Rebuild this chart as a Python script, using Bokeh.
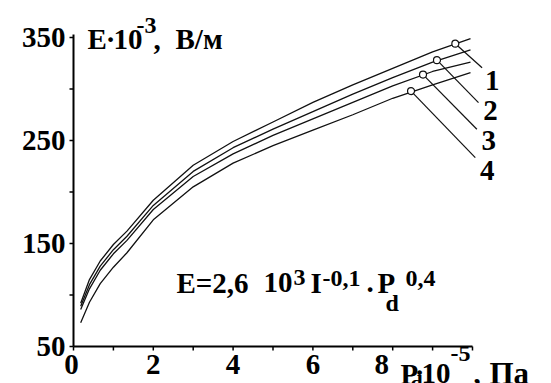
from bokeh.plotting import figure
from bokeh.models import Range1d, Label, LabelSet, ColumnDataSource
from bokeh.core.properties import value
from bokeh.embed import file_html
from bokeh.resources import INLINE

# ---- data ----
pd_x = [0.18, 0.4, 0.67, 1.0, 1.34, 2.0, 3.0, 4.0, 5.0, 6.0, 7.0, 8.0, 9.0, 9.95]
e_curve1 = [92, 115, 133, 149, 162, 192, 226, 249, 268, 287, 304, 320, 336, 349]
e_curve2 = [89, 110, 128, 144, 157, 187, 220, 243, 261, 278, 295, 311, 326, 338]
e_curve3 = [86, 106, 124, 140, 153, 183, 215, 237, 255, 271, 287, 303, 317, 326]
e_curve4 = [73, 93, 111, 127, 141, 173, 205, 228, 245, 260, 275, 291, 304, 316]
curve_names = ["1", "2", "3", "4"]
marker_x = [9.57, 9.11, 8.76, 8.46]
marker_e = [344, 328, 314, 298]
leader_x = [10.24, 10.15, 10.11, 10.07]
leader_e = [320.7, 286.7, 260.9, 233.3]
x_ticks = [0, 2, 4, 6, 8, 10]
x_minor = [1, 3, 5, 7, 9]
x_tick_labels = ["0", "2", "4", "6", "8"]
y_ticks = [50, 150, 250, 350]
y_minor = [100, 200, 300]
y_tick_labels = ["50", "150", "250", "350"]
x_min, x_max = 0, 10
e_min, e_max = 50, 350

FONT = "Liberation Serif"
MAIN = "29px"
SUP = "24px"

W, H = 551, 383
LEFT = 73          # pixel column of x = 0
BASE = 346         # pixel row of E = 50
PX_X = 39.9        # pixels per x unit
PX_Y = 1.03        # pixels per E unit

p = figure(width=W, height=H, output_backend="svg", toolbar_location=None,
           x_axis_location=None, y_axis_location=None,
           x_range=Range1d(-LEFT / PX_X, (W - LEFT) / PX_X),
           y_range=Range1d(e_min - (H - BASE) / PX_Y, e_min + BASE / PX_Y),
           min_border_left=0, min_border_right=0, min_border_top=0,
           min_border_bottom=0)
p.xgrid.grid_line_color = None
p.ygrid.grid_line_color = None
p.outline_line_color = None
p.background_fill_color = "white"
p.border_fill_color = "white"

tick_x = 4 / PX_Y   # 4 px tick (vertical, in E units)
tick_y = 4 / PX_X   # 4 px tick (horizontal, in x units)

# x axis at E = 50
all_xt = x_ticks + x_minor
p.segment(x0=[x_min], y0=[e_min], x1=[x_max], y1=[e_min],
          line_color="black", line_width=2)
p.segment(x0=all_xt, y0=[e_min] * len(all_xt), x1=all_xt,
          y1=[e_min - tick_x] * len(all_xt), line_color="black", line_width=1.5)

# y axis at x = 0
all_yt = y_ticks + y_minor
p.segment(x0=[x_min], y0=[e_min], x1=[x_min], y1=[e_max + 3],
          line_color="black", line_width=2)
p.segment(x0=[x_min] * len(all_yt), y0=all_yt, x1=[x_min - tick_y] * len(all_yt),
          y1=all_yt, line_color="black", line_width=1.5)

# curves
for vals in (e_curve1, e_curve2, e_curve3, e_curve4):
    p.line(pd_x, vals, line_color="#111111", line_width=1.3)

# leader lines and markers
p.segment(x0=marker_x, y0=marker_e, x1=leader_x, y1=leader_e,
          line_color="#111111", line_width=1.2)
p.scatter(marker_x, marker_e, marker="circle", size=7, fill_color="white",
          line_color="#111111", line_width=1.2)


def dx(px):
    return (px - LEFT) / PX_X


def dy(py):
    return e_min + (BASE - py) / PX_Y


def lab(px, py, txt, size=MAIN, align="left"):
    p.add_layout(Label(x=dx(px), y=dy(py), text=txt, text_font=FONT,
                       text_font_style="bold", text_font_size=size,
                       text_color="black", text_align=align,
                       text_baseline="alphabetic"))


# x tick labels from the tick arrays
xsrc = ColumnDataSource(dict(x=x_ticks[:len(x_tick_labels)], t=x_tick_labels,
                             y=[dy(373)] * len(x_tick_labels),
                             xo=[-2, 0, 0, 0, -11]))
p.add_layout(LabelSet(x="x", y="y", text="t", x_offset="xo", source=xsrc,
                      text_font=value(FONT), text_font_style="bold",
                      text_font_size=MAIN, text_color="black",
                      text_align="center", text_baseline="alphabetic"))

# y tick labels from the tick arrays
ysrc = ColumnDataSource(dict(y=y_ticks, t=y_tick_labels,
                             x=[dx(65)] * len(y_ticks)))
p.add_layout(LabelSet(x="x", y="y", text="t", source=ysrc,
                      text_font=value(FONT), text_font_style="bold",
                      text_font_size=MAIN, text_color="black",
                      text_align="right", text_baseline="middle"))

# curve labels
label_px = [(491.7, 80), (490, 110), (488.3, 140), (486.7, 170)]
for name, (lx, ly) in zip(curve_names, label_px):
    lab(lx, ly, name, align="center")

# y title: E·10^-3, В/м
lab(87, 38.5, "E")
lab(110, 38.5, "·", align="center")
lab(113, 38.5, "10")
lab(136, 25, "-3", size=SUP)
lab(153, 38.5, ",")
lab(175, 38.5, "В/м")

# x title: P_d·10^-5, Па
lab(400, 373, "P")
lab(410, 382, "d", size="22px")
lab(419, 371, "·", align="center")
lab(421, 373, "10")
lab(450, 353, "-5", size=SUP)
lab(473, 373, ",")
lab(489, 373, "Па", size="31px")

# formula: E=2,6 10^3 I^-0,1 · P_d^0,4
lab(176, 282, "E=2,6")
lab(263, 282, "10")
lab(293, 277, "3", size=SUP)
lab(310, 282, "I")
lab(322, 278, "-0,1", size=SUP)
lab(366, 282, ".")
lab(377, 282, "P")
lab(385, 302, "d", size=SUP)
lab(405, 278, "0,4", size=SUP)

open("out.html", "w").write(file_html(p, INLINE))
